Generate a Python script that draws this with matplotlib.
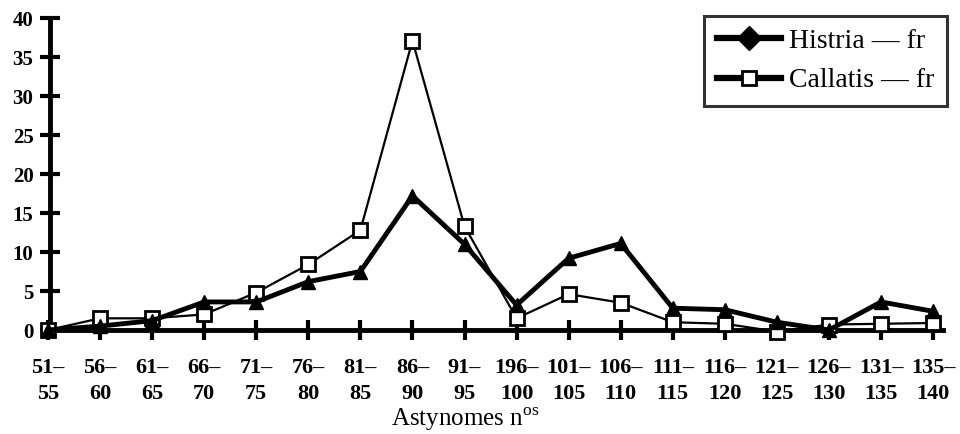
import matplotlib
matplotlib.use("Agg")
import matplotlib.pyplot as plt
from matplotlib.lines import Line2D

categories = ["51–\n55", "56–\n60", "61–\n65", "66–\n70", "71–\n75", "76–\n80",
              "81–\n85", "86–\n90", "91–\n95", "196–\n100", "101–\n105", "106–\n110",
              "111–\n115", "116–\n120", "121–\n125", "126–\n130", "131–\n135", "135–\n140"]
histria = [0, 0.5, 1.2, 3.6, 3.6, 6.2, 7.5, 17.2, 11.0, 3.2, 9.2, 11.1,
           2.8, 2.6, 1.0, 0, 3.6, 2.4]
callatis = [0, 1.5, 1.5, 2.0, 4.8, 8.4, 12.8, 37.1, 13.3, 1.5, 4.6, 3.5,
            1.0, 0.8, -0.2, 0.7, 0.8, 0.9]
yticks = [0, 5, 10, 15, 20, 25, 30, 35, 40]

plt.rcParams['font.family'] = ['Liberation Serif', 'DejaVu Serif']
plt.rcParams['mathtext.fontset'] = 'custom'
plt.rcParams['mathtext.rm'] = 'Liberation Serif'

W, H = 960, 434
fig = plt.figure(figsize=(9.6, 4.34), dpi=100)
ax = fig.add_axes([48 / W, 1 - 334.7 / H, 895 / W, 316.7 / H])

x = list(range(len(categories)))
ax.plot(x, callatis, color='black', lw=1.6, marker='s', ms=10, mfc='white',
        mec='black', mew=2, zorder=3, clip_on=False)
ax.plot(x, histria, color='black', lw=3.5, marker='^', ms=10, mfc='black',
        mec='black', zorder=4, clip_on=False)

ax.set_xlim(0, 17.19)
ax.set_ylim(-0.6, 40)
for s in ['top', 'right']:
    ax.spines[s].set_visible(False)
ax.spines['bottom'].set_position(('data', 0))
ax.spines['bottom'].set_linewidth(3.5)
ax.spines['left'].set_linewidth(3.5)
ax.spines['left'].set_position(('data', 0.04))
ax.spines['left'].set_bounds(-0.6, 40)

ax.set_xticks(x)
ax.set_xticklabels(categories, fontsize=16, fontweight='bold', linespacing=1.4)
ax.set_yticks(yticks)
ax.set_yticklabels([str(v) for v in yticks], fontsize=15, fontweight='bold')
ax.tick_params(axis='x', direction='inout', length=15, width=3, pad=13)
ax.tick_params(axis='y', direction='inout', length=14, width=3, pad=5)

ax.set_xlabel("Astynomes n$^{\\mathrm{os}}$", fontsize=18, va='center')
ax.xaxis.set_label_coords((465 - 48) / 895, (334.7 - 419) / 316.7)

handles = [
    Line2D([0], [0], color='black', lw=4.5, marker='D', ms=12, mfc='black', mec='black'),
    Line2D([0], [0], color='black', lw=4.5, marker='s', ms=10, mfc='white', mec='black', mew=2),
]
leg = ax.legend(handles, ["Histria — fr", "Callatis — fr"], loc='upper right',
                bbox_to_anchor=(947 / W, 1 - 16 / H), bbox_transform=fig.transFigure,
                borderaxespad=0, fontsize=20, frameon=True,
                fancybox=False, handlelength=2.3, borderpad=0.45, labelspacing=0.5,
                handletextpad=0.3)
leg.get_frame().set_edgecolor('black')
leg.get_frame().set_linewidth(2.2)

fig.savefig("out.png", dpi=100)
